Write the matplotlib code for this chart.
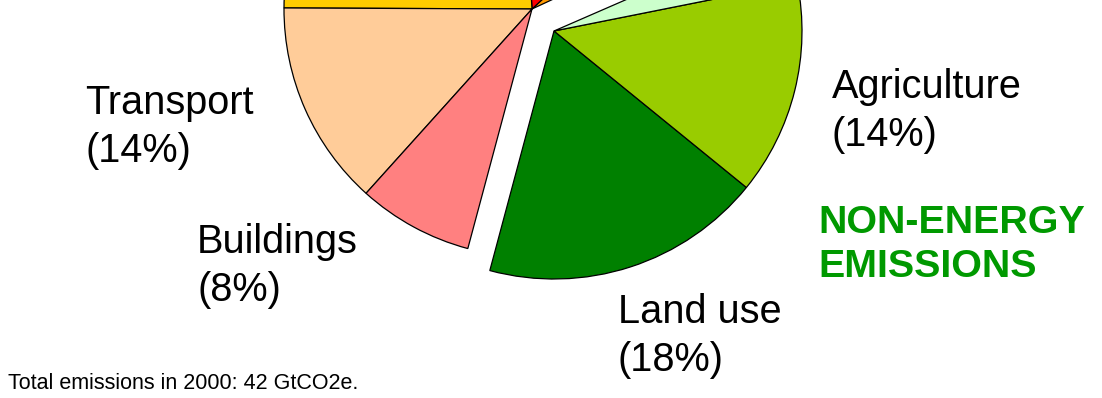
import numpy as np
from matplotlib import pyplot as plt

# shares (percent of total emissions)
energy_names = ['Other energy related', 'Industry', 'Power', 'Transport', 'Buildings']
energy_vals = [5.0, 14.0, 24.0, 13.4, 7.5]
energy_cols = ['#FF9900', '#FF0000', '#FFCC00', '#FFCC99', '#FF8080']

nonenergy_names = ['Land use', 'Agriculture', 'Waste']
nonenergy_vals = [18.3, 14.0, 3.4]
nonenergy_cols = ['#008000', '#99CC00', '#CCFFCC']

labels = ['Transport', 'Buildings', 'Land use', 'Agriculture']
label_pct = ['(14%)', '(8%)', '(18%)', '(14%)']
note = 'Total emissions in 2000: 42 GtCO2e.'

W, H = 1102, 398
fig = plt.figure(figsize=(W / 100, H / 100), dpi=100)
ax = fig.add_axes([0, 0, 1, 1])

R = 248
end_angle = 255.0
e_start = end_angle - 360 * sum(energy_vals) / 100
wedge = dict(edgecolor='black', linewidth=0.9)

ax.pie(np.array(energy_vals) / 100, colors=energy_cols, startangle=e_start,
       radius=R, center=(532, H - 9), normalize=False, wedgeprops=wedge, frame=True)
ax.pie(np.array(nonenergy_vals) / 100, colors=nonenergy_cols, startangle=end_angle,
       radius=R, center=(554, H - 31), normalize=False, wedgeprops=wedge, frame=True)
ax.set_xlim(0, W)
ax.set_ylim(0, H)
ax.set_aspect('auto')
ax.axis('off')

fs = 28.6
font = 'Liberation Sans'
# label positions: left x, baseline of first line (image coords)
pos = [(85, 114), (197, 253), (618, 323), (832, 98)]
for name, pct, (x, yb) in zip(labels, label_pct, pos):
    ax.text(x, H - yb, name, fontsize=fs, family=font, ha='left', va='baseline')
    ax.text(x, H - yb - 48, pct, fontsize=fs, family=font, ha='left', va='baseline')

ax.text(818, H - 233, 'NON-ENERGY', fontsize=28.4, family=font, weight='bold',
        color='#009900', ha='left', va='baseline')
ax.text(818, H - 277, 'EMISSIONS', fontsize=28.4, family=font, weight='bold',
        color='#009900', ha='left', va='baseline')

ax.text(8, H - 389, note, fontsize=15.5, family=font, ha='left', va='baseline')

plt.savefig('out.png', dpi=100)
